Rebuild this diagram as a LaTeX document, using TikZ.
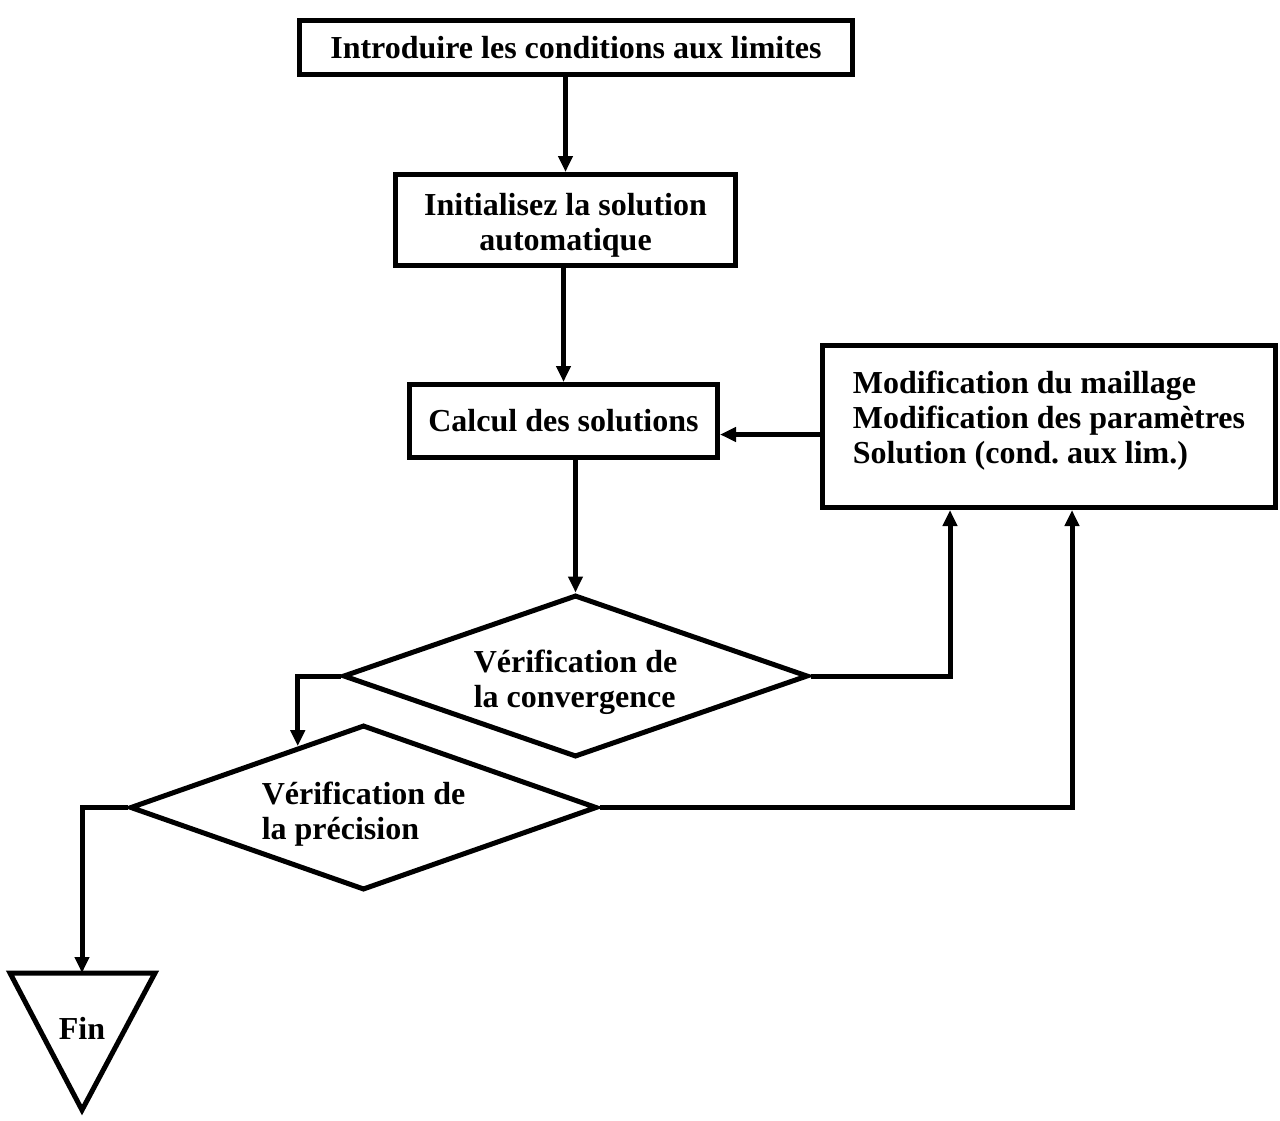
\documentclass[tikz,border=0pt]{standalone}
\usepackage{fontspec}
\setmainfont{Liberation Serif}
\usetikzlibrary{arrows.meta}
\usetikzlibrary{positioning}
\usetikzlibrary{shapes, shapes.geometric}
\frenchspacing

\begin{document}
\begin{tikzpicture}[
        x=0.5pt, y=-0.5pt,
        every node/.style={align=center, font=\fontsize{16}{17.5}\selectfont\bfseries, inner sep=0pt},
        box/.style={rectangle, draw, line width=2.5pt},
        decision/.style={diamond, draw, line width=2.5pt, align=left, aspect=2.87, text height=35pt},
        arrow/.style={-{Triangle[length=8pt, width=7pt]}, line width=2.5pt}
    ]
    \useasboundingbox (0,0) rectangle (1280,1120);

    % Main steps
    \node[box, minimum width=276.5pt, minimum height=27pt] (cond) at (576,47.5) {Introduire les conditions aux limites};
    \node[box, minimum width=170pt, minimum height=45.5pt, text height=34.3pt] (init) at (565.5,220) {Initialisez la solution\\automatique};
    \node[box, minimum width=154pt, minimum height=36.5pt] (calc) at (563.5,421) {Calcul des solutions};
    \node[box, minimum width=226.5pt, minimum height=81pt, align=left, text depth=9.5pt] (modif) at (1049,426.5) {Modification du maillage\\Modification des paramètres\\Solution (cond. aux lim.)};

    % Checks
    \node[decision, minimum width=232.5pt, minimum height=81pt] (conv) at (575.5,676) {Vérification de\\la convergence};
    \node[decision, minimum width=233.5pt, minimum height=82.5pt] (prec) at (363.5,807.5) {Vérification de\\la précision};

    % End
    \coordinate (fintop) at (82,973);
    \draw[line width=2.5pt] (10,973) -- (155,973) -- (82,1110) -- cycle;
    \node (fin) at (82,1028) {Fin};

    % Arrows
    \draw[arrow] (init.north |- cond.south) -- (init.north);
    \draw[arrow] (calc.north |- init.south) -- (calc.north);
    \draw[arrow] ([yshift=-4pt]modif.west) -- ([yshift=-4pt]modif.west -| calc.east);
    \draw[arrow] (conv.north |- calc.south) -- (conv.north);
    \draw[arrow] (conv.east) -| ([xshift=-49.5pt]modif.south);
    \draw[arrow] (prec.east) -| ([xshift=11.5pt]modif.south);
    \draw[arrow] (conv.west) -| (prec.137);
    \draw[arrow] (prec.west) -| (fintop);

\end{tikzpicture}
\end{document}
